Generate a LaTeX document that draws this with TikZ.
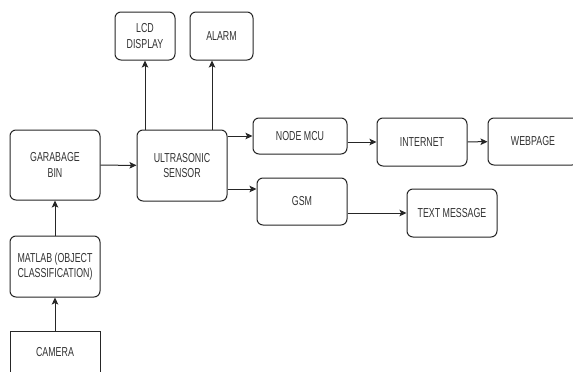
\documentclass[tikz,border=0pt]{standalone}
\usepackage{fontspec}
\setmainfont{Liberation Sans}[FakeStretch=0.68]
\usetikzlibrary{arrows.meta}
\definecolor{linec}{HTML}{262626}
\definecolor{textc}{HTML}{333333}
\begin{document}
\begin{tikzpicture}[x=1pt,y=-1pt,
  box/.style={draw=linec, line width=1pt, rounded corners=6pt, align=center,
    inner sep=0pt, text=textc, font=\fontsize{13}{15.5}\selectfont},
  sqbox/.style={box, rounded corners=0pt},
  arr/.style={draw=linec, line width=1pt, -{Stealth[length=7pt,width=6.5pt,inset=1.5pt]}}]
\clip (0,0) rectangle (573,372);
\fill[white] (0,0) rectangle (573,372);
% nodes
\node[box, minimum width=60pt, minimum height=48pt] (lcd) at (145,36) {LCD\\DISPLAY};
\node[box, minimum width=63pt, minimum height=48pt] (alarm) at (221.5,36) {ALARM};
\node[box, minimum width=90pt, minimum height=70pt] (bin) at (55,165) {GARABAGE\\BIN};
\node[box, minimum width=90pt, minimum height=71pt] (ultra) at (182,165.5) {ULTRASONIC\\SENSOR};
\node[box, minimum width=94pt, minimum height=36pt] (mcu) at (300,136) {NODE MCU};
\node[box, minimum width=90pt, minimum height=48pt] (net) at (422,142) {INTERNET};
\node[box, minimum width=90pt, minimum height=47pt] (web) at (533,141.5) {WEBPAGE};
\node[box, minimum width=90pt, minimum height=47pt] (gsm) at (302,201.5) {GSM};
\node[box, minimum width=90pt, minimum height=48pt] (sms) at (452,213) {TEXT MESSAGE};
\node[box, minimum width=90pt, minimum height=61pt] (matlab) at (55,266.5) {MATLAB (OBJECT\\CLASSIFICATION)};
\node[sqbox, minimum width=90pt, minimum height=43pt] (cam) at (55,352.5) {CAMERA};
% connectors
\coordinate (alarmin) at ([xshift=-9.5pt]alarm.south);
\coordinate (gsmin) at ([yshift=12.5pt]gsm.west);
\draw[arr] (cam) -- (matlab);
\draw[arr] (matlab) -- (bin);
\draw[arr] (bin) -- (ultra);
\draw[arr] (lcd.south |- ultra.north) -- (lcd.south);
\draw[arr] (alarmin |- ultra.north) -- (alarmin);
\draw[arr] (ultra.east |- mcu.west) -- (mcu.west);
\draw[arr] (ultra.east |- gsmin) -- (gsmin);
\draw[arr] (mcu.east |- net.west) -- (net.west);
\draw[arr] (net) -- (web);
\draw[arr] (gsm.east |- sms.west) -- (sms.west);
\end{tikzpicture}
\end{document}
